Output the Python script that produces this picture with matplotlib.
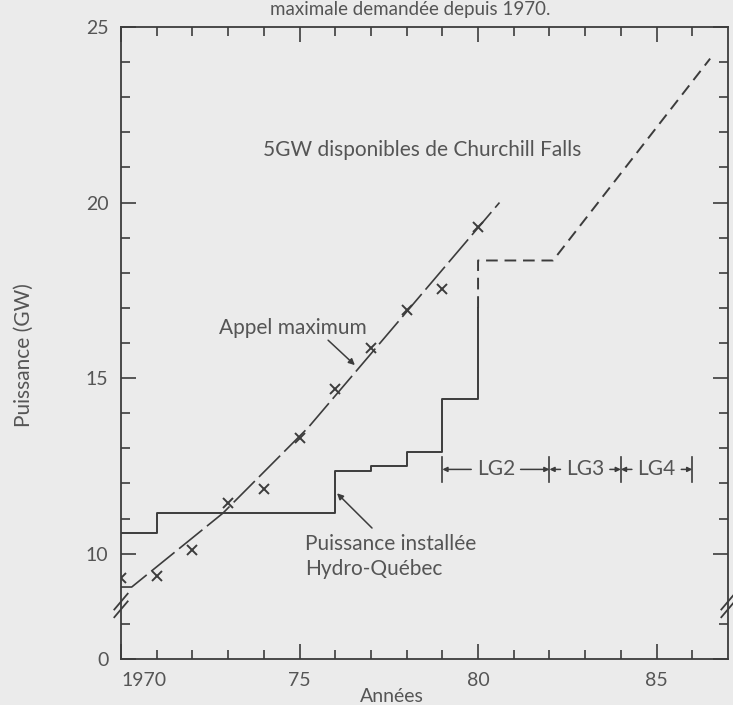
import matplotlib.pyplot as plt
import matplotlib.transforms as mtransforms

# appel maximum observé (GW)
years = [1970, 1971, 1972, 1973, 1974, 1975, 1976, 1977, 1978, 1979, 1980]
appel_max = [9.3, 9.35, 10.1, 11.45, 11.85, 13.3, 14.7, 15.85, 16.95, 17.55, 19.3]

# courbe de tendance de l'appel maximum
trend_years = [1970.0, 1970.3, 1972.85, 1975.25, 1980.6]
trend_values = [9.05, 9.05, 11.15, 13.6, 20.0]

# puissance installée Hydro-Québec (paliers)
step_years = [1970, 1971, 1976, 1977, 1978, 1979, 1980]
step_values = [10.6, 11.15, 12.35, 12.5, 12.9, 14.4, 17.0]

# prévision (pointillés)
proj_years = [1980, 1980, 1982.1, 1986.5]
proj_values = [17.0, 18.35, 18.35, 24.1]

# mises en service LG2 / LG3 / LG4
lg_bounds = [1979, 1982, 1984, 1986]
lg_labels = ['LG2', 'LG3', 'LG4']
lg_level = 12.4

bg = '#ebebeb'
ink = '#3c3c3c'
txt = '#555555'

plt.rcParams['font.family'] = ['Lato', 'DejaVu Sans']

fig = plt.figure(figsize=(7.33, 7.05), dpi=100, facecolor=bg)
ax = fig.add_axes([121 / 733, 46 / 705, 607 / 733, 632 / 705])
ax.set_facecolor(bg)
ax.set_xlim(1970, 1987)
ax.set_ylim(7, 25)

# courbes
ax.plot(trend_years, trend_values, color=ink, lw=1.2, dashes=(18, 3.5))
ax.plot(years, appel_max, ls='none', marker='x', ms=7, mew=1.4, color=ink)
ax.step(step_years, step_values, where='post', color=ink, lw=1.4)
ax.plot(proj_years, proj_values, color=ink, lw=1.4, dashes=(6, 3.5))

# axes
for s in ax.spines.values():
    s.set_color(ink)
    s.set_linewidth(1.3)

ax.set_xticks([1970, 1975, 1980, 1985])
ax.set_xticklabels(['1970', '75', '80', '85'])
ax.set_xticks([y for y in range(1971, 1987) if y % 5], minor=True)
ax.set_yticks([7, 10, 15, 20, 25])
ax.set_yticklabels(['0', '10', '15', '20', '25'])
ax.set_yticks([8] + [v for v in range(11, 25) if v % 5], minor=True)
ax.tick_params(which='both', direction='in', top=True, right=True,
               color=ink, width=1.2, labelsize=14, labelcolor=txt)
ax.tick_params(which='major', length=11)
ax.tick_params(which='minor', length=6.5)
ax.tick_params(axis='x', pad=9)
ax.tick_params(axis='y', pad=9)
ax.get_xticklabels()[0].set_ha('left')

# coupure de l'axe
tr = mtransforms.blended_transform_factory(ax.transAxes, ax.transData)
for xa in (0, 1):
    for dy in (-0.11, 0.11):
        ax.plot([xa - 0.011, xa + 0.011], [8.3 + dy, 8.75 + dy],
                transform=tr, color=ink, lw=1.3, clip_on=False)

fig.text(24 / 733, 1 - 355 / 705, 'Puissance (GW)', rotation=90,
         ha='center', va='center', fontsize=15, color=txt)
fig.text(392 / 733, 1 - 697 / 705, 'Années', ha='center', va='center',
         fontsize=14, color=txt)
fig.text(410 / 733, 1 - 15 / 705, 'maximale demandée depuis 1970.',
         ha='center', va='baseline', fontsize=13.5, color=txt)

# annotations
ax.text(1978.43, 21.5, '5GW disponibles de Churchill Falls',
        ha='center', va='center', fontsize=15, color=txt)

ax.text(1974.82, 16.42, 'Appel maximum', ha='center', va='center',
        fontsize=15, color=txt)
ax.annotate('', xy=(1976.55, 15.37), xytext=(1975.8, 16.08),
            arrowprops=dict(arrowstyle='-|>', color=ink, lw=1.1,
                            mutation_scale=9, shrinkA=0, shrinkB=0))

ax.text(1975.15, 9.93, 'Puissance installée\nHydro-Québec', ha='left',
        va='center', fontsize=15, color=txt, linespacing=1.3)
ax.annotate('', xy=(1976.05, 11.72), xytext=(1977.03, 10.73),
            arrowprops=dict(arrowstyle='-|>', color=ink, lw=1.1,
                            mutation_scale=9, shrinkA=0, shrinkB=0))

# repères LG2 / LG3 / LG4
for b in lg_bounds:
    ax.plot([b, b], [lg_level - 0.36, lg_level + 0.36], color=ink, lw=1.2)
for i, lab in enumerate(lg_labels):
    x0, x1 = lg_bounds[i], lg_bounds[i + 1]
    xc = (x0 + x1) / 2
    for xb, rel, col in ((x0, (0, 0.5), txt), (x1, (1, 0.5), 'none')):
        ax.annotate(lab, xy=(xb, lg_level), xytext=(xc, lg_level),
                    ha='center', va='center', fontsize=15, color=col,
                    arrowprops=dict(arrowstyle='-|>', color=ink, lw=1.1,
                                    relpos=rel, mutation_scale=7,
                                    shrinkA=2, shrinkB=0))

fig.savefig('out.png', dpi=100, facecolor=bg)
